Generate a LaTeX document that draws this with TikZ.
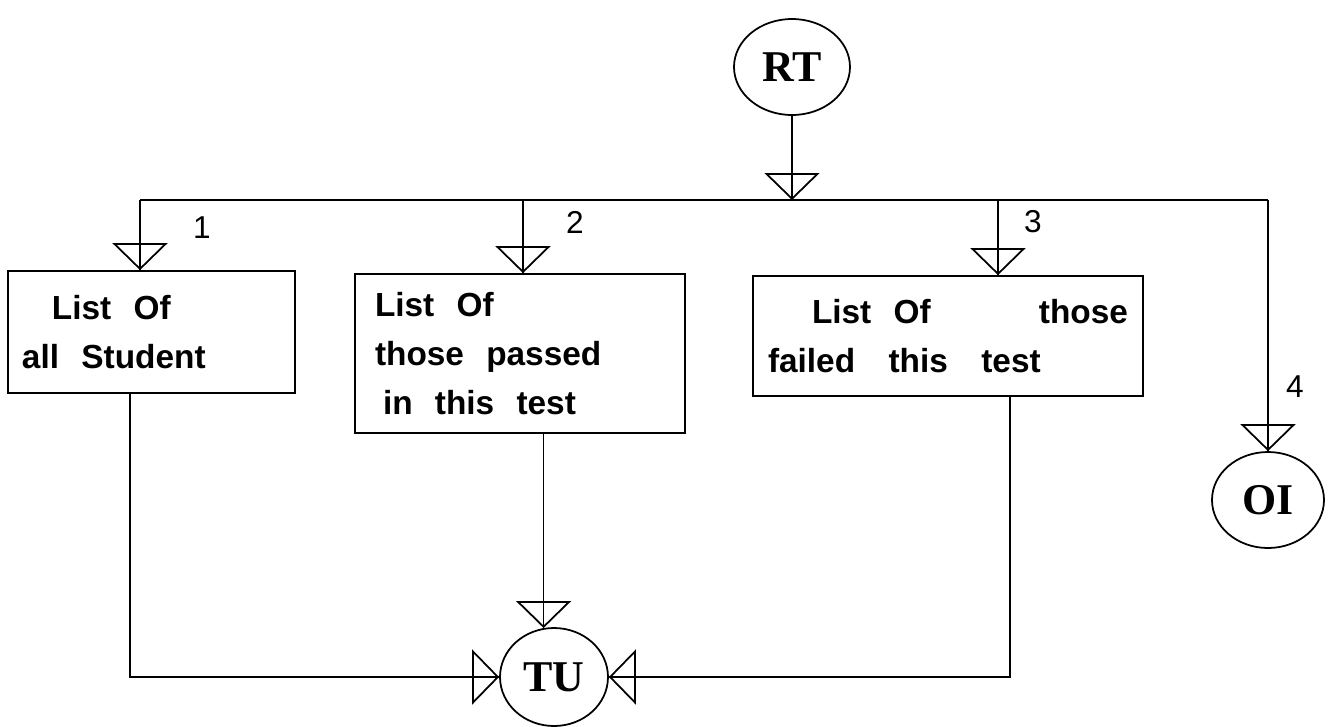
\documentclass[tikz,border=0pt]{standalone}
\usepackage{fontspec}
\usetikzlibrary{arrows.meta,shapes.geometric}
\newfontfamily\boxfont{Liberation Sans}
\newfontfamily\procfont{Liberation Serif}
\newfontfamily\tagfont{Liberation Sans}
\tikzset{
  store/.style={
    rectangle, draw, line width=0.5pt, align=left, inner ysep=0pt,
    font=\boxfont\bfseries\fontsize{9.5}{14}\selectfont
  },
  proc/.style={
    ellipse, draw, line width=0.5pt, inner sep=0pt,
    font=\procfont\bfseries\fontsize{12.5}{14}\selectfont
  },
  tag/.style={font=\tagfont\fontsize{9}{10}\selectfont},
  link/.style={line width=0.5pt},
  flow/.style={line width=0.5pt, draw,
    postaction={draw, -{Triangle[open,length=2.7mm,width=5.5mm,line width=0.5pt]}}}
}
\begin{document}
\begin{tikzpicture}
  \useasboundingbox (0,0) rectangle (13.3,7.26);
  % processes
  \node[proc,minimum width=1.16cm,minimum height=0.96cm] (RT) at (7.92,6.59) {RT};
  \node[proc,minimum width=1.12cm,minimum height=0.96cm] (OI) at (12.68,2.26) {OI};
  \node[proc,minimum width=1.08cm,minimum height=0.98cm] (TU) at (5.54,0.49) {TU};
  % stores
  \node[store,minimum height=1.22cm,inner xsep=0.14cm,text width=2.59cm] (box1) at (1.515,3.94)
    {\hspace*{0.30cm}List~~Of\\all~~Student};
  \node[store,minimum height=1.59cm,inner xsep=0.20cm,text width=2.90cm] (box2) at (5.20,3.725)
    {List~~Of\\those~~passed\\\hspace*{0.08cm}in~~this~~test};
  \node[store,minimum height=1.20cm,inner xsep=0.15cm,text width=3.60cm] (box3) at (9.48,3.90)
    {\hspace*{0.44cm}List~~Of\hfill those\hspace*{0.13cm}\\failed~~~this~~~test};
  % bus
  \coordinate (b1) at (1.40,5.26);
  \coordinate (b2) at (5.23,5.26);
  \coordinate (b3) at (9.98,5.26);
  \coordinate (b4) at (12.68,5.26);
  \coordinate (b0) at (RT.south |- b1);
  \draw[link] (b1) -- (b4);
  \draw[flow] (RT) -- (b0);
  \draw[flow] (b1) -- (b1 |- box1.north);
  \draw[flow] (b2) -- (b2 |- box2.north);
  \draw[flow] (b3) -- (b3 |- box3.north);
  \draw[flow] (b4) -- (OI.north);
  \node[tag] (n1) at (2.02,4.98) {1};
  \node[tag] (n2) at (5.75,5.04) {2};
  \node[tag] (n3) at (10.33,5.04) {3};
  \node[tag] (n4) at (12.95,3.39) {4};
  % into TU
  \coordinate (o1) at (1.30,0);
  \coordinate (o3) at (10.10,0);
  \draw[flow] (o1 |- box1.south) -- (o1 |- TU.west) -- (TU.west);
  \draw[flow] (box2.south -| TU.102) -- (TU.102);
  \draw[flow] (o3 |- box3.south) -- (o3 |- TU.east) -- (TU.east);
\end{tikzpicture}
\end{document}
